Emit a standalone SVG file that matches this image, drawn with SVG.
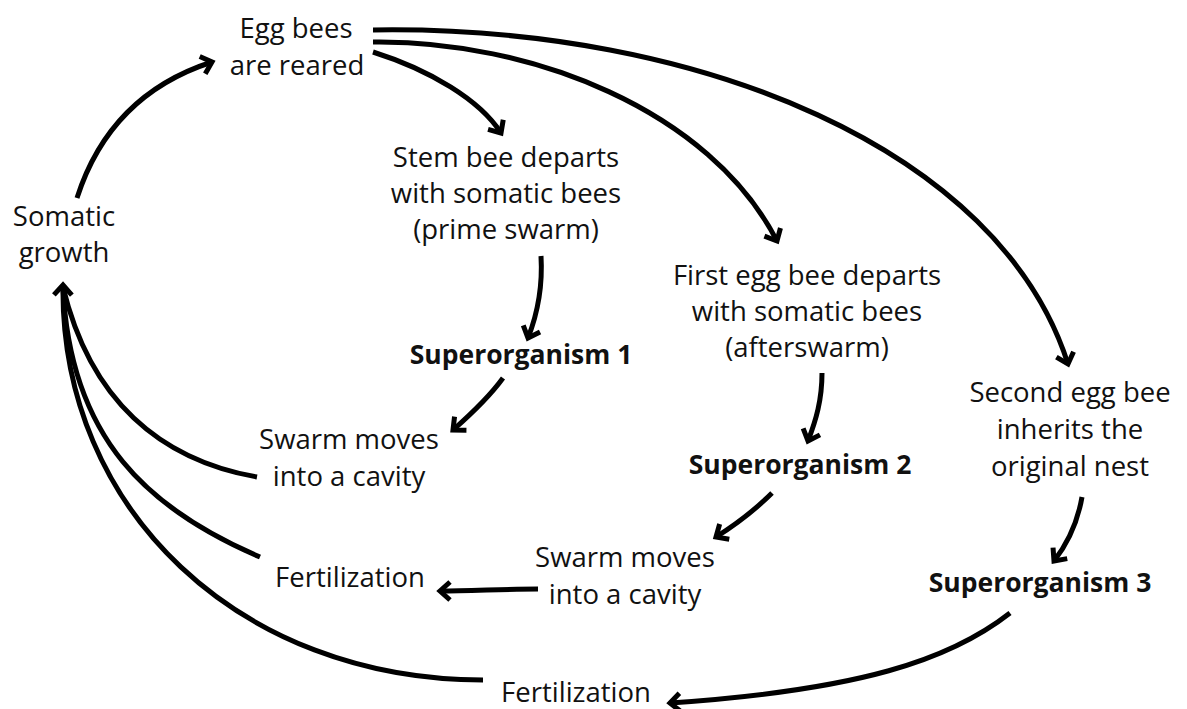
<svg xmlns="http://www.w3.org/2000/svg" width="1187" height="709" viewBox="0 0 1187 709">
<style>
text{font-family:"Open Sans","Noto Sans","Liberation Sans",sans-serif;font-size:27.5px;fill:#111;text-anchor:middle}
.b{font-weight:bold;font-size:26.5px}
.c{fill:none;stroke:#000;stroke-width:5;stroke-linecap:butt}
</style>
<defs>
<marker id="ah" markerUnits="userSpaceOnUse" markerWidth="30" markerHeight="30" viewBox="-15 -15 30 30" refX="0" refY="0" orient="auto" overflow="visible">
<path d="M-10,-9 L0,0 L-10,9" fill="none" stroke="#000" stroke-width="5" stroke-linejoin="miter"/>
</marker>
</defs>
<rect width="1187" height="709" fill="#fff"/>
<g id="connectors">
<path class="c" d="M77,198 Q110,95 212,62" marker-end="url(#ah)"/>
<path class="c" d="M373,30 C700,25 1000,150 1068,364" marker-end="url(#ah)"/>
<path class="c" d="M373,42 C530,40 710,110 777,241" marker-end="url(#ah)"/>
<path class="c" d="M373,52 C430,70 480,100 501,133" marker-end="url(#ah)"/>
<path class="c" d="M541,256 C543,290 537,315 528,338" marker-end="url(#ah)"/>
<path class="c" d="M503,378 C490,396 470,415 453,430" marker-end="url(#ah)"/>
<path class="c" d="M257,477 C160,460 90,400 63,287"/>
<path class="c" d="M260,557 C150,510 70,440 63,287"/>
<path class="c" d="M483,680 C240,680 60,510 63,285" marker-end="url(#ah)"/>
<path class="c" d="M822,373 C822,400 816,420 808,441" marker-end="url(#ah)"/>
<path class="c" d="M772,493 C755,510 735,525 716,537" marker-end="url(#ah)"/>
<path class="c" d="M538,589 C505,589 470,591 440,591" marker-end="url(#ah)"/>
<path class="c" d="M1082,497 C1078,520 1068,543 1054,561" marker-end="url(#ah)"/>
<path class="c" d="M1010,613 C950,660 860,690 670,703" marker-end="url(#ah)"/>
</g>
<g id="egg-bees"><text x="296" y="38">Egg bees</text><text x="297" y="75">are reared</text></g>
<g id="somatic-growth"><text x="64" y="226">Somatic</text><text x="64" y="262">growth</text></g>
<g id="stem-bee"><text x="506" y="167">Stem bee departs</text><text x="506" y="203">with somatic bees</text><text x="506" y="239">(prime swarm)</text></g>
<g id="first-egg-bee"><text x="807" y="285">First egg bee departs</text><text x="807" y="321">with somatic bees</text><text x="807" y="357">(afterswarm)</text></g>
<g id="second-egg-bee"><text x="1070" y="402">Second egg bee</text><text x="1070" y="439">inherits the</text><text x="1070" y="476">original nest</text></g>
<g id="superorganism-1"><text class="b" x="521" y="364">Superorganism 1</text></g>
<g id="superorganism-2"><text class="b" x="800" y="474">Superorganism 2</text></g>
<g id="superorganism-3"><text class="b" x="1040" y="592">Superorganism 3</text></g>
<g id="swarm-moves-1"><text x="349" y="449">Swarm moves</text><text x="349" y="486">into a cavity</text></g>
<g id="swarm-moves-2"><text x="625" y="567">Swarm moves</text><text x="625" y="604">into a cavity</text></g>
<g id="fertilization-1"><text x="350" y="587">Fertilization</text></g>
<g id="fertilization-2"><text x="576" y="702">Fertilization</text></g>
</svg>
